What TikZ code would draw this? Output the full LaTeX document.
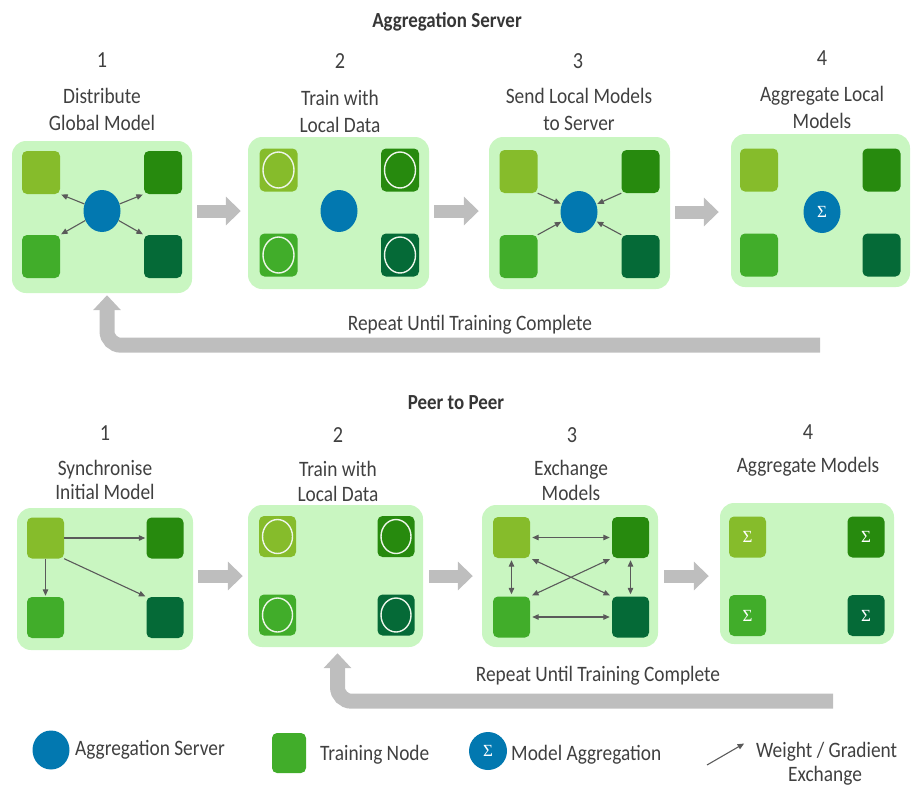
\documentclass[tikz,border=0pt]{standalone}
\usepackage{fontspec}
\setmainfont{Carlito}[FakeStretch=0.88]
\newfontfamily\sigmafont{Liberation Serif}
\usetikzlibrary{arrows.meta,shapes.geometric,calc}

\definecolor{panelbg}{HTML}{C9F6C1}
\definecolor{sqA}{HTML}{86BC2B}
\definecolor{sqB}{HTML}{278A0E}
\definecolor{sqC}{HTML}{41AD2A}
\definecolor{sqD}{HTML}{056A37}
\definecolor{srvblue}{HTML}{0278B0}
\definecolor{arrowgray}{HTML}{BEBEBE}
\definecolor{conngray}{HTML}{5A5A5A}
\definecolor{textgray}{HTML}{404040}
\definecolor{ringwhite}{HTML}{EEF6EA}

\begin{document}
\begin{tikzpicture}[x=1pt,y=-1pt,
  panel/.style={fill=panelbg, rounded corners=14pt, inner sep=0pt},
  sq/.style={rounded corners=5pt, minimum width=38pt, minimum height=43pt, inner sep=0pt},
  sqs/.style={rounded corners=5pt, minimum width=37pt, minimum height=41pt, inner sep=0pt},
  server/.style={ellipse, fill=srvblue, minimum width=37pt, minimum height=42pt, inner sep=0pt},
  sigma/.style={text=white, font=\sigmafont\fontsize{17}{17}\selectfont},
  ring/.style={draw=ringwhite, line width=1.4pt},
  conn/.style={draw=conngray, line width=1.1pt, shorten >=1pt, -{Triangle[length=6.5pt,width=5.5pt]}},
  dconn/.style={draw=conngray, line width=1.1pt, shorten >=2pt, shorten <=2pt,
    {Triangle[length=6.5pt,width=5.5pt]}-{Triangle[length=6.5pt,width=5.5pt]}},
  fat/.style={draw=arrowgray, line width=13pt, -{Triangle[length=15pt,width=28pt]}},
  ret/.style={draw=arrowgray, line width=15pt, rounded corners=14pt, -{Triangle[length=15pt,width=27pt]}},
  txt/.style={text=textgray, font=\fontsize{22}{26}\selectfont, inner sep=0pt, anchor=base},
  num/.style={text=textgray, font=\fontsize{23}{26}\selectfont, inner sep=0pt, anchor=base},
  ttl/.style={text=textgray!85!black, font=\bfseries\fontsize{21.5}{26}\selectfont, inner sep=0pt, anchor=base},
  lgd/.style={text=textgray, font=\fontsize{22}{26}\selectfont, inner sep=0pt, anchor=base west}
]
\useasboundingbox (0,0) rectangle (923,785);

% ---------------- Aggregation server workflow ----------------
\node[ttl] (ttitle) at (447,27) {Aggregation Server};

\node[num] (tn1) at (102,67) {1};
\node[num] (tn2) at (340,68) {2};
\node[num] (tn3) at (578,68) {3};
\node[num] (tn4) at (822,65) {4};

\node[txt] (tl1a) at (102,103) {Distribute};
\node[txt] (tl1b) at (102,130) {Global Model};
\node[txt] (tl2a) at (340,105) {Train with};
\node[txt] (tl2b) at (340,132) {Local Data};
\node[txt] (tl3a) at (579,103) {Send Local Models};
\node[txt] (tl3b) at (579,130) {to Server};
\node[txt] (tl4a) at (822,101) {Aggregate Local};
\node[txt] (tl4b) at (822,128) {Models};

% panels
\node[panel, minimum width=180pt, minimum height=152pt] (tp1) at (102,217) {};
\node[panel, minimum width=181pt, minimum height=152pt] (tp2) at (338.5,213) {};
\node[panel, minimum width=181pt, minimum height=152pt] (tp3) at (579.5,213) {};
\node[panel, minimum width=179pt, minimum height=153pt] (tp4) at (820.5,210.5) {};

% step 1: distribute
\node[sq, fill=sqA] (p1a) at (41,172.5) {};
\node[sq, fill=sqB] (p1b) at (163,172.5) {};
\node[sq, fill=sqC] (p1c) at (41,256.5) {};
\node[sq, fill=sqD] (p1d) at (163,256.5) {};
\node[server] (ts1) at (102,211) {};
\draw[conn] (ts1) -- (p1a.south east);
\draw[conn] (ts1) -- (p1b.south west);
\draw[conn] (ts1) -- (p1c.north east);
\draw[conn] (ts1) -- (p1d.north west);

% step 2: local training
\node[sq, fill=sqA] (p2a) at (278.5,170) {};
\node[sq, fill=sqB] (p2b) at (400,170) {};
\node[sq, fill=sqC] (p2c) at (278.5,255) {};
\node[sq, fill=sqD] (p2d) at (400,255) {};
\foreach \s in {p2a,p2b,p2c,p2d}
  \draw[ring] (\s.center) ellipse [x radius=15.5pt, y radius=18pt];
\node[server] (ts2) at (339,211) {};

% step 3: send to server
\node[sq, fill=sqA] (p3a) at (518.5,171.5) {};
\node[sq, fill=sqB] (p3b) at (640.5,171.5) {};
\node[sq, fill=sqC] (p3c) at (518.5,256.5) {};
\node[sq, fill=sqD] (p3d) at (640.5,256.5) {};
\node[server] (ts3) at (579,212) {};
\draw[conn] (p3a.south east) -- (ts3);
\draw[conn] (p3b.south west) -- (ts3);
\draw[conn] (p3c.north east) -- (ts3);
\draw[conn] (p3d.north west) -- (ts3);

% step 4: aggregate on server
\node[sq, fill=sqA] (p4a) at (759,170) {};
\node[sq, fill=sqB] (p4b) at (881.5,170) {};
\node[sq, fill=sqC] (p4c) at (759,255) {};
\node[sq, fill=sqD] (p4d) at (881.5,255) {};
\node[server, sigma] (ts4) at (822,212) {Σ};

% forward arrows
\draw[fat] ($(tp1.east |- ts1)+(5,0)$) -- ($(tp2.west |- ts1)+(-7,0)$);
\draw[fat] ($(tp2.east |- ts2)+(5,0)$) -- ($(tp3.west |- ts2)+(-10,0)$);
\draw[fat] ($(tp3.east |- ts3)+(5,0)$) -- ($(tp4.west |- ts3)+(-12,0)$);

% repeat loop
\coordinate (tret) at (820,345);
\draw[ret] (tret) -- ($(tp1.south)+(5,52)$) -- ($(tp1.south)+(5,2)$);
\node[txt] (trep) at (470,330) {Repeat Until Training Complete};

% ---------------- Peer to peer workflow ----------------
\node[ttl] (btitle) at (456,409) {Peer to Peer};

\node[num] (bn1) at (105,440) {1};
\node[num] (bn2) at (338,442) {2};
\node[num] (bn3) at (572,442) {3};
\node[num] (bn4) at (808,439) {4};

\node[txt] (bl1a) at (105,475) {Synchronise};
\node[txt] (bl1b) at (105,499) {Initial Model};
\node[txt] (bl2a) at (338,476) {Train with};
\node[txt] (bl2b) at (338,501) {Local Data};
\node[txt] (bl3a) at (571,475) {Exchange};
\node[txt] (bl3b) at (571,500) {Models};
\node[txt] (bl4a) at (808,472) {Aggregate Models};

% panels
\node[panel, minimum width=176pt, minimum height=142pt] (qp1) at (105,579) {};
\node[panel, minimum width=175pt, minimum height=142pt] (qp2) at (335.5,576) {};
\node[panel, minimum width=176pt, minimum height=142pt] (qp3) at (570,576) {};
\node[panel, minimum width=174pt, minimum height=141pt] (qp4) at (807,573.5) {};

% step 1: synchronise
\node[sqs, fill=sqA] (q1a) at (45.5,538) {};
\node[sqs, fill=sqB] (q1b) at (165,538) {};
\node[sqs, fill=sqC] (q1c) at (45.5,617.5) {};
\node[sqs, fill=sqD] (q1d) at (165,617.5) {};
\draw[conn] (q1a) -- (q1b);
\draw[conn] (q1a) -- (q1c);
\draw[conn] (q1a.south east) -- (q1d.north west);

% step 2: local training
\node[sqs, fill=sqA] (q2a) at (277.5,536.5) {};
\node[sqs, fill=sqB] (q2b) at (396,536.5) {};
\node[sqs, fill=sqC] (q2c) at (277.5,615) {};
\node[sqs, fill=sqD] (q2d) at (396,615) {};
\foreach \s in {q2a,q2b,q2c,q2d}
  \draw[ring] (\s.center) ellipse [x radius=15pt, y radius=17pt];

% step 3: exchange
\node[sqs, fill=sqA] (q3a) at (511.5,537.5) {};
\node[sqs, fill=sqB] (q3b) at (630.5,537.5) {};
\node[sqs, fill=sqC] (q3c) at (511.5,617) {};
\node[sqs, fill=sqD] (q3d) at (630.5,617) {};
\draw[dconn] (q3a) -- (q3b);
\draw[dconn] (q3c) -- (q3d);
\draw[dconn] (q3a) -- (q3c);
\draw[dconn] (q3b) -- (q3d);
\draw[dconn] (q3a.south east) -- (q3d.north west);
\draw[dconn] (q3b.south west) -- (q3c.north east);

% step 4: local aggregation
\node[sqs, fill=sqA, sigma] (q4a) at (747.5,537) {Σ};
\node[sqs, fill=sqB, sigma] (q4b) at (866,537) {Σ};
\node[sqs, fill=sqC, sigma] (q4c) at (747.5,615.5) {Σ};
\node[sqs, fill=sqD, sigma] (q4d) at (866,615.5) {Σ};

% forward arrows
\draw[fat] ($(qp1.east |- qp2)+(5,0)$) -- ($(qp2.west |- qp2)+(-5,0)$);
\draw[fat] ($(qp2.east |- qp2)+(6,0)$) -- ($(qp3.west |- qp2)+(-9,0)$);
\draw[fat] ($(qp3.east |- qp2)+(6,0)$) -- ($(qp4.west |- qp2)+(-11,0)$);

% repeat loop
\coordinate (bret) at (833,701);
\draw[ret] (bret) -- ($(qp2.south)+(2,54)$) -- ($(qp2.south)+(2,6)$);
\node[txt] (brep) at (598,681) {Repeat Until Training Complete};

% ---------------- legend ----------------
\node[ellipse, fill=srvblue, minimum width=37pt, minimum height=39pt, inner sep=0pt] (lg1) at (51,750) {};
\node[lgd] (lg1t) at (75,755) {Aggregation Server};
\node[rounded corners=5pt, fill=sqC, minimum width=34pt, minimum height=40pt, inner sep=0pt] (lg2) at (289,753) {};
\node[lgd] (lg2t) at (320,760) {Training Node};
\node[ellipse, fill=srvblue, minimum width=38pt, minimum height=38pt, inner sep=0pt, sigma] (lg3) at (488,751) {Σ};
\node[lgd] (lg3t) at (511,760) {Model Aggregation};
\coordinate (lga) at (707,765);
\coordinate (lgb) at (745,743);
\draw[conn] (lga) -- (lgb);
\node[lgd] (lg4t) at (756,757) {Weight / Gradient};
\node[txt] (lg4u) at (825,781) {Exchange};
\end{tikzpicture}
\end{document}
